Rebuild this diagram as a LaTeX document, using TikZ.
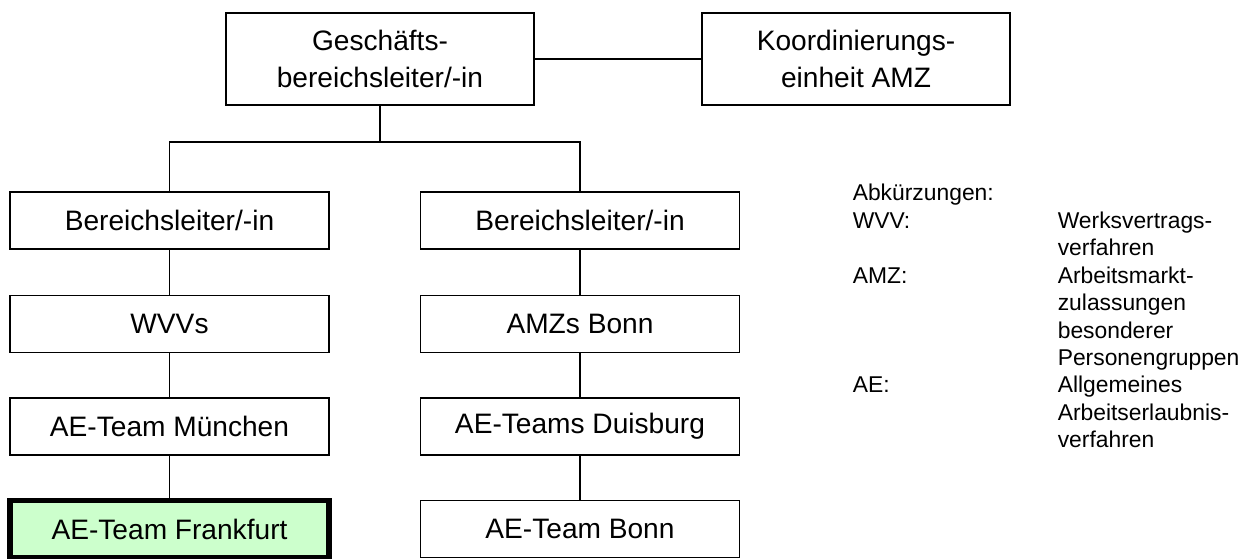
\documentclass[tikz,border=0pt]{standalone}
\usepackage{fontspec}
\setmainfont{Liberation Sans}
\definecolor{markgreen}{HTML}{CCFFCC}
\begin{document}
\begin{tikzpicture}[>=to,
        box/.style={draw,line width=0.9pt,minimum width=6.38cm,minimum height=1.14cm,inner sep=0pt,font=\fontsize{16}{20}\selectfont},
        topbox/.style={box,minimum width=6.16cm,minimum height=1.84cm,align=center,font=\fontsize{16}{21}\selectfont},
        markbox/.style={box,line width=3.2pt,fill=markgreen}]
        \useasboundingbox (0,0) rectangle (25,-11.18);
        \begin{scope}[line width=0.9pt]
            \node[topbox] (gbl) at (7.6,-1.18) {Geschäfts-\\bereichsleiter/-in};
            \node[topbox] (koord) at (17.12,-1.18) {Koordinierungs-\\einheit AMZ};
            \node[box] (bla) at (3.39,-4.41) {Bereichsleiter/-in};
            \node[box] (blb) at (11.6,-4.41) {Bereichsleiter/-in};
            \node[box] (wvv) at (3.39,-6.48) {WVVs};
            \node[box] (amz) at (11.6,-6.48) {AMZs Bonn};
            \node[box] (muc) at (3.39,-8.53) {AE-Team München};
            \node[box] (dui) at (11.6,-8.53) {AE-Teams Duisburg};
            \node[markbox] (fra) at (3.39,-10.58) {AE-Team Frankfurt};
            \node[box] (bon) at (11.6,-10.58) {AE-Team Bonn};
            \coordinate (fork) at (7.6,-2.84);
            \draw (gbl.east)--(koord.west);
            \draw (gbl.south)--(fork);
            \draw (bla.north)|-(fork)-|(blb.north);
            \draw (bla)--(wvv) (wvv)--(muc) (muc)--(fra);
            \draw (blb)--(amz) (amz)--(dui) (dui)--(bon);
            % Abkuerzungen
            \node[anchor=base west,inner sep=0pt,font=\fontsize{13}{15.6}\selectfont] (legend) at (17.04,-4.02) {%
                \begin{tabular}[t]{@{}p{4.1cm}@{}l@{}}
                    Abkürzungen: & \\
                    WVV: & Werksvertrags-\\
                    & verfahren\\
                    AMZ: & Arbeitsmarkt-\\
                    & zulassungen\\
                    & besonderer\\
                    & Personengruppen\\
                    AE: & Allgemeines\\
                    & Arbeitserlaubnis-\\
                    & verfahren
                \end{tabular}};
        \end{scope}
    \end{tikzpicture}
\end{document}
